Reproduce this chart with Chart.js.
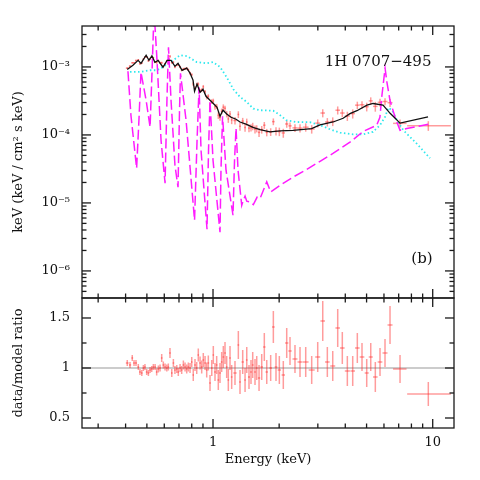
<!DOCTYPE html>
<html>
<head>
<meta charset="utf-8">
<script src="https://cdn.jsdelivr.net/npm/chart.js@4"></script>
<style>
  html, body { margin: 0; padding: 0; background: #fff; }
</style>
</head>
<body>
<canvas id="grafico" width="480" height="480"></canvas>
<script>
// Datos observados (keV, flujo, cociente datos/modelo)
var energia = [
  0.407, 0.419, 0.429, 0.437, 0.446, 0.457, 0.465, 0.474, 0.482, 0.490,
  0.499, 0.508, 0.517, 0.526, 0.535, 0.545, 0.554, 0.564, 0.574, 0.584,
  0.594, 0.605, 0.616, 0.626, 0.637, 0.649, 0.660, 0.671, 0.684, 0.695,
  0.708, 0.720, 0.733, 0.746, 0.759, 0.772, 0.786, 0.800, 0.813, 0.828,
  0.843, 0.857, 0.873, 0.888, 0.903, 0.920, 0.936, 0.952, 0.969, 0.987,
  1.003, 1.021, 1.039, 1.057, 1.076, 1.095, 1.114, 1.134, 1.154, 1.174,
  1.195, 1.216, 1.259, 1.304, 1.327, 1.365, 1.399, 1.424, 1.458, 1.489,
  1.516, 1.553, 1.581, 1.620, 1.666, 1.712, 1.756, 1.830, 1.882, 1.935,
  2.004, 2.089, 2.165, 2.241, 2.361, 2.489, 2.642, 2.813, 2.996, 3.158,
  3.314, 3.507, 3.695, 3.877, 4.087, 4.324, 4.538, 4.766, 5.007, 5.223,
  5.480, 5.756, 6.066, 6.393, 7.10, 9.55
];
var flujo = [
  9.6e-4, 1.03e-3, 1.15e-3, 1.15e-3, 1.24e-3, 1.27e-3, 1.11e-3, 1.14e-3, 1.30e-3, 1.41e-3,
  1.40e-3, 1.23e-3, 1.32e-3, 1.40e-3, 1.37e-3, 1.18e-3, 1.16e-3, 1.23e-3, 1.15e-3, 1.15e-3,
  1.03e-3, 1.11e-3, 1.22e-3, 1.26e-3, 1.43e-3, 1.16e-3, 1.17e-3, 1.00e-3, 1.07e-3, 1.08e-3,
  1.00e-3, 9.0e-4, 9.3e-4, 9.4e-4, 9.5e-4, 9.1e-4, 8.1e-4, 7.7e-4, 5.6e-4, 4.9e-4,
  5.5e-4, 5.6e-4, 4.45e-4, 4.56e-4, 5.1e-4, 4.3e-4, 3.6e-4, 3.7e-4, 2.75e-4, 3.1e-4,
  3.16e-4, 2.6e-4, 2.63e-4, 1.94e-4, 1.8e-4, 2.23e-4, 2.56e-4, 2.46e-4, 2.03e-4, 1.72e-4,
  2.03e-4, 1.66e-4, 1.63e-4, 2.0e-4, 1.34e-4, 1.6e-4, 1.29e-4, 1.55e-4, 1.26e-4, 1.28e-4,
  1.34e-4, 1.21e-4, 1.24e-4, 1.09e-4, 1.2e-4, 1.39e-4, 1.09e-4, 1.11e-4, 1.57e-4, 1.14e-4,
  1.12e-4, 1.07e-4, 1.45e-4, 1.36e-4, 1.27e-4, 1.26e-4, 1.3e-4, 1.22e-4, 1.49e-4, 2.1e-4,
  1.55e-4, 1.58e-4, 2.31e-4, 2.1e-4, 1.9e-4, 2.06e-4, 2.74e-4, 2.78e-4, 2.6e-4, 3.17e-4,
  2.63e-4, 3.02e-4, 3.1e-4, 2.98e-4, 1.48e-4, 1.37e-4
];
var cociente = [
  1.05, 1.03, 1.10, 1.05, 1.05, 1.01, 0.96, 0.95, 1.00, 1.01,
  0.96, 0.95, 0.98, 0.99, 1.01, 1.01, 0.96, 0.99, 1.00, 1.10,
  1.03, 1.01, 1.00, 1.01, 1.15, 0.95, 1.05, 0.98, 0.99, 0.96,
  1.00, 0.98, 1.03, 1.01, 0.99, 1.01, 1.00, 1.06, 0.93, 1.03,
  1.00, 1.13, 1.05, 1.01, 1.08, 1.05, 0.98, 1.05, 0.85, 1.00,
  1.13, 0.96, 1.03, 0.88, 0.95, 1.06, 1.11, 1.15, 1.01, 0.88,
  1.10, 0.91, 0.95, 1.23, 0.86, 1.06, 0.88, 1.08, 0.91, 0.96,
  1.03, 0.96, 1.00, 0.90, 1.01, 1.21, 0.96, 1.00, 1.41, 1.01,
  0.98, 0.93, 1.25, 1.17, 1.09, 1.06, 1.06, 0.98, 1.11, 1.47,
  1.06, 1.02, 1.40, 1.20, 0.97, 0.97, 1.20, 1.11, 0.95, 1.11,
  0.91, 1.06, 1.15, 1.43, 0.99, 0.74
];
var errCociente = [
  0.03, 0.03, 0.03, 0.03, 0.03, 0.03, 0.03, 0.03, 0.03, 0.03,
  0.03, 0.03, 0.03, 0.03, 0.03, 0.03, 0.035, 0.035, 0.035, 0.04,
  0.035, 0.035, 0.035, 0.035, 0.05, 0.04, 0.04, 0.04, 0.04, 0.04,
  0.04, 0.04, 0.045, 0.045, 0.045, 0.045, 0.05, 0.05, 0.06, 0.06,
  0.06, 0.065, 0.065, 0.065, 0.07, 0.07, 0.075, 0.075, 0.08, 0.08,
  0.09, 0.09, 0.09, 0.1, 0.1, 0.1, 0.11, 0.11, 0.11, 0.11,
  0.12, 0.12, 0.12, 0.14, 0.12, 0.12, 0.12, 0.13, 0.12, 0.12,
  0.13, 0.13, 0.12, 0.13, 0.13, 0.14, 0.12, 0.13, 0.16, 0.14,
  0.14, 0.14, 0.15, 0.14, 0.14, 0.15, 0.15, 0.14, 0.15, 0.2,
  0.15, 0.15, 0.19, 0.16, 0.15, 0.15, 0.15, 0.14, 0.14, 0.14,
  0.15, 0.14, 0.14, 0.19, 0.14, 0.12
];
// bines anchos al final del espectro (keV)
var binesAnchos = { 104: [6.6, 7.6], 105: [7.65, 12.1] };

// Modelo total (linea negra)
var modeloE = [0.407, 0.432, 0.456, 0.470, 0.496, 0.511, 0.527, 0.544, 0.562, 0.592,
  0.618, 0.644, 0.671, 0.693, 0.723, 0.759, 0.786, 0.811, 0.824, 0.846,
  0.873, 0.900, 0.929, 0.969, 1.011, 1.043, 1.076, 1.11, 1.158, 1.208,
  1.273, 1.327, 1.413, 1.52, 1.637, 1.817, 2.02, 2.31, 2.81, 3.07,
  3.52, 3.91, 4.20, 4.52, 5.02, 5.35, 5.94, 6.40, 7.10, 9.52];
var modeloF = [9.2e-4, 1.06e-3, 1.25e-3, 1.13e-3, 1.49e-3, 1.25e-3, 1.46e-3, 1.17e-3, 1.25e-3, 9.9e-4,
  1.25e-3, 1.25e-3, 1.02e-3, 1.13e-3, 8.9e-4, 9.6e-4, 8.1e-4, 6.4e-4, 4.4e-4, 5.6e-4,
  4.25e-4, 4.7e-4, 3.7e-4, 3.24e-4, 2.83e-4, 2.55e-4, 1.88e-4, 2.31e-4, 2.01e-4, 1.82e-4,
  1.70e-4, 1.55e-4, 1.44e-4, 1.29e-4, 1.20e-4, 1.11e-4, 1.15e-4, 1.17e-4, 1.24e-4, 1.41e-4,
  1.55e-4, 1.76e-4, 2.06e-4, 2.27e-4, 2.74e-4, 2.90e-4, 2.74e-4, 2.08e-4, 1.49e-4, 1.84e-4];

// Componente punteada (cian)
var cianE = [0.419, 0.465, 0.517, 0.556, 0.592, 0.624, 0.658, 0.708, 0.762, 0.843,
  0.936, 1.0, 1.076, 1.154, 1.237, 1.327, 1.423, 1.524, 1.637, 1.88,
  2.02, 2.16, 2.40, 2.76, 3.07, 3.41, 3.79, 4.34, 4.82, 5.35,
  5.75, 6.07, 6.28, 6.53, 6.88, 7.35, 8.45, 9.72];
var cianF = [8.44e-4, 8.44e-4, 8.94e-4, 8.94e-4, 1.0e-3, 1.13e-3, 1.25e-3, 1.49e-3, 1.44e-3, 1.18e-3,
  1.13e-3, 1.18e-3, 1.0e-3, 7.06e-4, 4.7e-4, 3.62e-4, 3.06e-4, 2.44e-4, 2.31e-4, 2.27e-4,
  1.95e-4, 1.64e-4, 1.55e-4, 1.54e-4, 1.39e-4, 1.21e-4, 1.08e-4, 1.02e-4, 1.02e-4, 1.11e-4,
  1.39e-4, 1.84e-4, 2.51e-4, 2.31e-4, 1.64e-4, 1.17e-4, 7.48e-5, 4.54e-5];

// Componente discontinua (magenta)
var magentaE = [0.410, 0.423, 0.449, 0.460, 0.470, 0.496, 0.517, 0.528, 0.539, 0.556,
  0.580, 0.605, 0.617, 0.627, 0.644, 0.671, 0.693, 0.704, 0.711, 0.754,
  0.824, 0.846, 0.864, 0.882, 0.939, 0.954, 0.969, 1.0, 1.076, 1.087,
  1.105, 1.146, 1.233, 1.253, 1.273, 1.300, 1.351, 1.374, 1.399, 1.424,
  1.474, 1.526, 1.586, 1.637, 1.756, 1.830, 2.02, 2.32, 2.67, 3.07,
  3.53, 4.20, 4.83, 5.56, 5.75, 5.86, 6.07, 6.19, 6.39, 6.74,
  7.10, 7.62, 9.55];
var magentaF = [8.65e-4, 1.95e-4, 3.24e-5, 1.64e-4, 8.36e-4, 3.24e-4, 1.30e-4, 8.94e-4, 6.8e-3, 1.25e-3,
  8.36e-5, 1.95e-5, 3.24e-4, 1.95e-3, 3.24e-4, 3.58e-5, 1.70e-5, 2.31e-4, 8.08e-4, 1.64e-4,
  5.57e-6, 8.36e-5, 5.03e-4, 5.96e-5, 4.1e-6, 5.96e-5, 3.24e-4, 4.25e-5, 3.71e-6, 3.03e-5,
  1.88e-4, 3.03e-5, 6.59e-6, 4.25e-5, 1.26e-4, 3.03e-5, 9.25e-6, 1.10e-5, 1.26e-5, 1.06e-5,
  1.03e-5, 9.46e-6, 1.21e-5, 1.16e-5, 2.04e-5, 1.45e-5, 1.82e-5, 2.41e-5, 3.10e-5, 4.10e-5,
  5.38e-5, 7.81e-5, 1.13e-4, 1.39e-4, 1.82e-4, 3.58e-4, 9.57e-4, 5.95e-4, 3.24e-4, 1.82e-4,
  1.17e-4, 1.24e-4, 1.44e-4];

// Marcas de los ejes
var ticksX = [1, 10];
var menoresX = [0.3, 0.4, 0.5, 0.6, 0.7, 0.8, 0.9, 2, 3, 4, 5, 6, 7, 8, 9];
var ticksYSup = [1e-6, 1e-5, 1e-4, 1e-3];
var ticksYInf = [0.5, 1, 1.5];
var menoresYInf = [0.75, 1.25];

var menoresYSup = [];
for (var e = -7; e <= -3; e++) {
  for (var k = 2; k <= 9; k++) {
    var v = k * Math.pow(10, e);
    if (v > 4.01e-7 && v < 3.99e-3) menoresYSup.push(v);
  }
}

function pares(xs, ys) {
  return xs.map(function(v, i) { return { x: v, y: ys[i] }; });
}

function linea(ctx, x1, y1, x2, y2) {
  ctx.beginPath();
  ctx.moveTo(x1, y1);
  ctx.lineTo(x2, y2);
  ctx.stroke();
}

function extremos(i) {
  if (binesAnchos[i]) return binesAnchos[i];
  var l = Math.log10(energia[i]);
  var dl = i > 0 ? l - Math.log10(energia[i - 1]) : Infinity;
  var dr = i < energia.length - 1 ? Math.log10(energia[i + 1]) - l : Infinity;
  var h = Math.min(dl, dr) / 2;
  return [Math.pow(10, l - h), Math.pow(10, l + h)];
}

function cruces(chart, panel) {
  var ctx = chart.ctx, x = chart.scales.x, s = chart.scales[panel];
  ctx.save();
  ctx.strokeStyle = 'rgba(255,35,35,0.45)';
  ctx.lineWidth = 1.5;
  for (var i = 0; i < energia.length; i++) {
    var b = extremos(i);
    var val = panel === 'y' ? flujo[i] : cociente[i];
    var err = val * errCociente[i] / cociente[i];
    var px = x.getPixelForValue(energia[i]);
    var py = s.getPixelForValue(val);
    linea(ctx, x.getPixelForValue(b[0]), py, x.getPixelForValue(b[1]), py);
    linea(ctx, px, s.getPixelForValue(val - err), px, s.getPixelForValue(val + err));
  }
  ctx.restore();
}

var superindice = { '0': '⁰', '1': '¹', '2': '²', '3': '³', '4': '⁴', '5': '⁵', '6': '⁶', '7': '⁷', '8': '⁸', '9': '⁹', '-': '⁻' };
function potencia(v) {
  var ex = String(Math.round(Math.log10(v)));
  return '10' + ex.split('').map(function(c) { return superindice[c]; }).join('');
}

var marcas = {
  id: 'marcas',
  beforeDatasetsDraw: function(chart) {
    cruces(chart, 'y');
  },
  afterDatasetsDraw: function(chart) {
    cruces(chart, 'y2');
  },
  afterDraw: function(chart) {
    var ctx = chart.ctx, x = chart.scales.x, a = chart.chartArea;
    var sup = chart.scales.y, inf = chart.scales.y2;
    ctx.save();
    ctx.strokeStyle = '#1a1a1a';
    ctx.lineWidth = 1.3;
    [sup, inf].forEach(function(s) {
      ctx.strokeRect(a.left, s.top, a.right - a.left, s.bottom - s.top);
      ticksX.concat(menoresX).forEach(function(v) {
        var L = ticksX.indexOf(v) >= 0 ? 9 : 4.5;
        var px = x.getPixelForValue(v);
        linea(ctx, px, s.top, px, s.top + L);
        linea(ctx, px, s.bottom, px, s.bottom - L);
      });
    });
    function ejeY(s, mayores, menores) {
      mayores.concat(menores).forEach(function(v) {
        var L = mayores.indexOf(v) >= 0 ? 9 : 4.5;
        var py = s.getPixelForValue(v);
        linea(ctx, a.left, py, a.left + L, py);
        linea(ctx, a.right, py, a.right - L, py);
      });
    }
    ejeY(sup, ticksYSup, menoresYSup);
    ejeY(inf, ticksYInf, menoresYInf);

    ctx.fillStyle = '#111';
    ctx.font = '15px "DejaVu Serif"';
    ctx.textAlign = 'center';
    ctx.textBaseline = 'middle';
    ctx.fillText('1H 0707\u2212495', x.getPixelForValue(5.64), sup.getPixelForValue(1.17e-3));
    ctx.fillText('(b)', x.getPixelForValue(8.94), sup.getPixelForValue(1.49e-6));
    ctx.restore();
  }
};

Chart.defaults.font.family = '"DejaVu Serif", serif';
Chart.defaults.font.size = 13;
Chart.defaults.color = '#111';

var ctx = document.getElementById('grafico').getContext('2d');
var grafico = new Chart(ctx, {
  type: 'line',
  data: {
    datasets: [
      { label: 'modelo', data: pares(modeloE, modeloF), yAxisID: 'y', borderColor: '#111', borderWidth: 1.3, pointRadius: 0 },
      { label: 'magenta', data: pares(magentaE, magentaF), yAxisID: 'y', borderColor: '#ff1cff', borderWidth: 1.5, borderDash: [10, 4], pointRadius: 0 },
      { label: 'cian', data: pares(cianE, cianF), yAxisID: 'y', borderColor: '#2ee8ee', borderWidth: 1.8, borderDash: [1.5, 2.5], pointRadius: 0 },
      { label: 'datos', data: pares(energia, flujo), yAxisID: 'y', showLine: false, pointRadius: 0 },
      { label: 'cociente', data: pares(energia, cociente), yAxisID: 'y2', showLine: false, pointRadius: 0 },
      { label: 'unidad', data: [{ x: 0.2533, y: 1 }, { x: 12.5, y: 1 }], yAxisID: 'y2', borderColor: '#9a9a9a', borderWidth: 1.2, pointRadius: 0 }
    ]
  },
  options: {
    responsive: false,
    animation: false,
    layout: { padding: { top: 26, right: 26, left: 0, bottom: 0 } },
    plugins: { legend: { display: false }, tooltip: { enabled: false } },
    elements: { line: { tension: 0 } },
    scales: {
      x: {
        type: 'logarithmic', position: 'bottom', min: 0.2533, max: 12.5,
        grid: { display: false }, border: { display: false },
        ticks: { autoSkip: false, maxRotation: 0, padding: -1, font: { size: 13 },
          callback: function(v) { return String(v); } },
        afterBuildTicks: function(s) { s.ticks = ticksX.map(function(v) { return { value: v }; }); },
        afterFit: function(s) { s.height = 52; },
        title: { display: true, text: 'Energy (keV)', font: { size: 13 }, padding: { top: 0, bottom: 13 } }
      },
      y: {
        type: 'logarithmic', position: 'left', stack: 'panel', stackWeight: 2.092, weight: 1,
        min: 4e-7, max: 4e-3,
        grid: { display: false }, border: { display: false },
        ticks: { autoSkip: false, padding: 4, callback: function(v) { return potencia(v); } },
        afterBuildTicks: function(s) { s.ticks = ticksYSup.map(function(v) { return { value: v }; }); },
        afterFit: function(s) { s.width = 82; },
        title: { display: true, text: 'keV (keV / cm\u00b2 s keV)', font: { size: 13 }, padding: { top: 11, bottom: 0 } }
      },
      y2: {
        type: 'linear', position: 'left', stack: 'panel', stackWeight: 1, weight: 0,
        min: 0.4, max: 1.7,
        grid: { display: false }, border: { display: false },
        ticks: { autoSkip: false, padding: 4, callback: function(v) { return String(v); } },
        afterBuildTicks: function(s) { s.ticks = ticksYInf.map(function(v) { return { value: v }; }); },
        afterFit: function(s) { s.width = 82; },
        title: { display: true, text: 'data/model ratio', font: { size: 13 }, padding: { top: 11, bottom: 0 } }
      }
    }
  },
  plugins: [marcas]
});
</script>
</body>
</html>
